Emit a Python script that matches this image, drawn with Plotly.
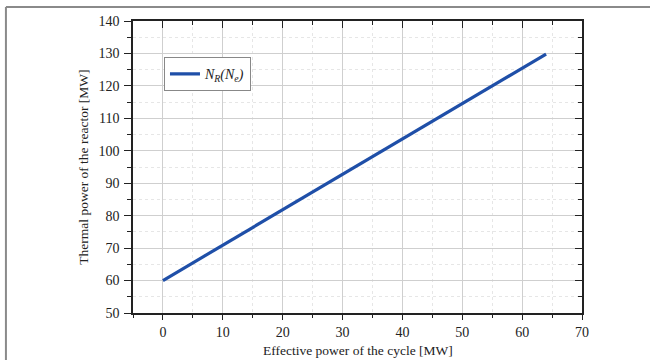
import plotly.graph_objects as go

# Data
effective_power = [0, 10, 20, 30, 40, 50, 60, 64]
thermal_power = [60.0, 70.9, 81.8, 92.7, 103.6, 114.5, 125.4, 129.8]

x_ticks = [0, 10, 20, 30, 40, 50, 60, 70]
y_ticks = [50, 60, 70, 80, 90, 100, 110, 120, 130, 140]

x_range = [-5, 70]
y_range = [50, 140]

x_title = "Effective power of the cycle [MW]"
y_title = "Thermal power of the reactor [MW]"

FONT = "Liberation Serif, Times New Roman, serif"
GRID = "#cfcfcf"
MINOR_GRID = "#e6e6e6"

fig = go.Figure()
fig.add_trace(go.Scatter(
    x=effective_power, y=thermal_power, mode="lines",
    line=dict(color="#1f4fa8", width=3.2),
    name="<i>N<sub>R</sub>(N<sub>e</sub>)</i>",
))
# helper trace to materialise mirrored top/right axes
fig.add_trace(go.Scatter(
    x=effective_power, y=thermal_power, mode="lines", xaxis="x2", yaxis="y2",
    line=dict(width=0), opacity=0, showlegend=False, hoverinfo="skip",
))

axis_common = dict(
    showline=True, linecolor="#222", linewidth=1.5,
    tickfont=dict(family=FONT, size=14, color="#222"),
    zeroline=False, automargin=False,
)

fig.update_layout(
    width=650, height=360,
    margin=dict(l=133, r=68, t=21, b=47),
    paper_bgcolor="white", plot_bgcolor="white",
    font=dict(family=FONT, size=14, color="#222"),
    xaxis=dict(
        range=x_range, tickvals=x_ticks, ticks="outside", ticklen=5, tickwidth=1.2,
        tickcolor="#222", showgrid=True, gridcolor=GRID, gridwidth=1,
        minor=dict(dtick=5, tick0=0, ticks="outside", ticklen=3, tickcolor="#222",
                   showgrid=True, gridcolor=MINOR_GRID, griddash="dot"),
        **axis_common,
    ),
    yaxis=dict(
        range=y_range, tickvals=y_ticks, ticks="outside", ticklen=7, tickwidth=1.2,
        tickcolor="#222", showgrid=True, gridcolor=GRID, gridwidth=1,
        ticklabelstandoff=2,
        minor=dict(dtick=5, tick0=0, ticks="outside", ticklen=4, tickcolor="#222",
                   showgrid=True, gridcolor=MINOR_GRID, griddash="dot"),
        **axis_common,
    ),
    xaxis2=dict(
        range=x_range, overlaying="x", side="top", tickvals=x_ticks,
        ticks="inside", ticklen=7, tickwidth=1.2, tickcolor="#222",
        showticklabels=False, showgrid=False, automargin=False,
        minor=dict(dtick=5, tick0=0, ticks="inside", ticklen=4, tickcolor="#222"),
        showline=True, linecolor="#222", linewidth=1.5, zeroline=False,
    ),
    yaxis2=dict(
        range=y_range, overlaying="y", side="right", tickvals=y_ticks,
        ticks="inside", ticklen=7, tickwidth=1.2, tickcolor="#222",
        showticklabels=False, showgrid=False, automargin=False,
        minor=dict(dtick=5, tick0=0, ticks="inside", ticklen=4, tickcolor="#222"),
        showline=True, linecolor="#222", linewidth=1.5, zeroline=False,
    ),
    legend=dict(
        x=0.069, y=0.876, xanchor="left", yanchor="top",
        bgcolor="white", bordercolor="#888", borderwidth=1,
        font=dict(family=FONT, size=14, color="#222"),
        itemwidth=30, tracegroupgap=0,
    ),
    showlegend=True,
    annotations=[
        dict(text=x_title, xref="paper", yref="paper", x=0.5, y=-0.13,
             xanchor="center", yanchor="middle", showarrow=False,
             font=dict(family=FONT, size=13.5, color="#222")),
        dict(text=y_title, xref="paper", yref="paper", x=-0.112, y=0.5,
             xanchor="center", yanchor="middle", showarrow=False, textangle=-90,
             font=dict(family=FONT, size=13.5, color="#222")),
    ],
    shapes=[
        dict(type="line", xref="paper", yref="paper", x0=-0.283, x1=1.2,
             y0=1.048, y1=1.048, line=dict(color="#8a8a8a", width=2)),
        dict(type="line", xref="paper", yref="paper", x0=-0.283, x1=-0.283,
             y0=1.048, y1=-0.2, line=dict(color="#8a8a8a", width=2)),
    ],
)

fig.write_html("out.html")
